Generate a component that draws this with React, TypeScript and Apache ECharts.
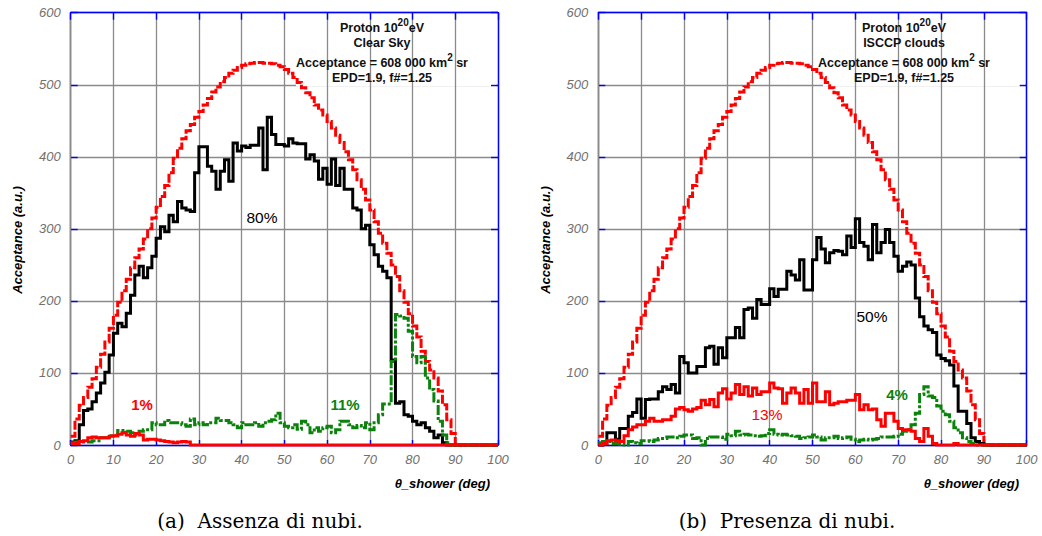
import { useEffect, useRef } from "react";
import * as echarts from "echarts";

// Acceptance histograms vs shower zenith angle, 1-degree bins starting at 0 deg.
const totalAcceptance = [
  12, 36, 55, 66, 80, 92, 108, 126, 143, 162,
  180, 198, 214, 230, 246, 260, 272, 286, 300, 315,
  330, 345, 360, 378, 398, 412, 425, 436, 445, 455,
  463, 472, 481, 490, 497, 504, 510, 516, 520, 524,
  527, 529, 530, 531, 531, 530, 530, 529, 527, 525,
  521, 516, 510, 503, 496, 489, 482, 472, 465, 458,
  449, 440, 430, 420, 407, 396, 382, 368, 355, 340,
  326, 310, 294, 280, 266, 250, 234, 214, 198, 182,
  165, 150, 130, 116, 104, 93, 75, 56, 35, 16,
  0, 0, 0, 0, 0, 0, 0, 0, 0, 0,
];

// Clear sky
const clearBlack = [
  4, 6, 28, 48, 50, 60, 72, 86, 101, 125,
  155, 169, 164, 183, 208, 236, 248, 232, 246, 262,
  287, 303, 296, 319, 310, 338, 329, 326, 324, 378,
  414, 414, 387, 380, 355, 380, 396, 366, 419, 408,
  415, 413, 416, 416, 440, 382, 455, 431, 417, 417,
  415, 425, 419, 418, 418, 397, 403, 394, 369, 384,
  362, 397, 360, 384, 355, 355, 329, 326, 300, 305,
  278, 264, 248, 241, 232, 118, 58, 60, 42, 40,
  33, 28, 31, 24, 19, 10, 14, 3, 0, 0,
  0, 0, 0, 0, 0, 0, 0, 0, 0, 0,
];
const clearGreen = [
  3, 4, 4, 4, 4, 6, 6, 10, 10, 13,
  13, 20, 20, 19, 17, 14, 19, 21, 21, 31,
  28, 28, 34, 31, 31, 31, 28, 26, 36, 28,
  31, 28, 31, 31, 37, 34, 34, 31, 28, 24,
  31, 28, 28, 31, 26, 31, 33, 35, 44, 31,
  26, 24, 28, 22, 33, 28, 17, 24, 19, 24,
  26, 17, 21, 33, 33, 28, 24, 27, 24, 31,
  21, 31, 42, 57, 57, 116, 181, 179, 176, 158,
  123, 114, 123, 93, 77, 61, 33, 14, 3, 0,
  0, 0, 0, 0, 0, 0, 0, 0, 0, 0,
];
const clearRed = [
  2, 2, 5, 6, 10, 11, 10, 10, 10, 12,
  13, 15, 17, 14, 12, 16, 14, 7, 8, 8,
  7, 6, 5, 4, 3, 4, 5, 4, 0, 0,
  0, 0, 0, 0, 0, 0, 0, 0, 0, 0,
  0, 0, 0, 0, 0, 0, 0, 0, 0, 0,
  0, 0, 0, 0, 0, 0, 0, 0, 0, 0,
  0, 0, 0, 0, 0, 0, 0, 0, 0, 0,
  0, 0, 0, 0, 0, 0, 0, 0, 0, 0,
  0, 0, 0, 0, 0, 0, 0, 0, 0, 0,
  0, 0, 0, 0, 0, 0, 0, 0, 0, 0,
];

// ISCCP clouds
const cloudBlack = [
  0, 2, 17, 17, 8, 23, 23, 40, 45, 64,
  37, 63, 64, 64, 74, 81, 77, 84, 72, 123,
  114, 100, 100, 109, 109, 135, 137, 112, 135, 121,
  149, 149, 163, 149, 188, 190, 176, 202, 195, 195,
  217, 206, 216, 216, 241, 236, 229, 257, 215, 215,
  257, 288, 272, 253, 267, 270, 269, 264, 290, 274,
  314, 281, 276, 257, 306, 267, 281, 299, 281, 262,
  241, 248, 254, 250, 204, 178, 165, 160, 156, 125,
  120, 117, 111, 82, 47, 47, 30, 10, 5, 2,
  0, 0, 0, 0, 0, 0, 0, 0, 0, 0,
];
const cloudRed = [
  0, 2, 6, 7, 6, 5, 13, 21, 25, 28,
  28, 33, 37, 33, 33, 35, 35, 40, 50, 52,
  49, 47, 50, 52, 62, 56, 63, 53, 72, 78,
  64, 72, 84, 70, 81, 68, 79, 70, 74, 74,
  86, 79, 78, 58, 72, 79, 72, 58, 77, 58,
  86, 60, 60, 74, 56, 58, 60, 60, 62, 62,
  70, 49, 56, 49, 50, 35, 26, 44, 44, 33,
  23, 21, 21, 19, 9, 5, 23, 12, 2, 0,
  0, 0, 0, 2, 0, 0, 0, 0, 0, 0,
  0, 0, 0, 0, 0, 0, 0, 0, 0, 0,
];
const cloudGreen = [
  3, 5, 5, 2, 2, 1, 0, 5, 3, 2,
  6, 6, 5, 7, 9, 9, 11, 11, 10, 12,
  14, 14, 9, 10, 0, 9, 11, 11, 11, 8,
  15, 13, 19, 14, 15, 14, 13, 12, 13, 16,
  21, 15, 14, 15, 14, 13, 12, 9, 10, 11,
  14, 11, 7, 10, 10, 12, 9, 10, 11, 8,
  5, 7, 8, 7, 8, 9, 11, 11, 11, 12,
  15, 19, 21, 28, 44, 70, 81, 68, 66, 54,
  47, 42, 33, 24, 17, 10, 5, 2, 0, 0,
  0, 0, 0, 0, 0, 0, 0, 0, 0, 0,
];

const FRAME = "#0000ff";
const GRID_COLOR = "#8a8a8a";
const RED = "#ff0000";
const GREEN = "#0b820b";
const BLACK = "#000000";

const tickFont = {
  color: "#707070",
  fontFamily: "Liberation Sans",
  fontStyle: "italic" as const,
  fontSize: 13,
};

// histogram bins -> step points, closing the last bin at its right edge
function steps(values: number[]) {
  const pts: number[][] = values.map((v, i) => [i, v]);
  pts.push([values.length, values[values.length - 1]]);
  return pts;
}

function hist(values: number[], axis: number, color: string, dash: any, z: number) {
  return {
    type: "line",
    xAxisIndex: axis,
    yAxisIndex: axis,
    data: steps(values),
    step: "end",
    symbol: "none",
    showSymbol: false,
    clip: false,
    silent: true,
    z,
    lineStyle: { color, width: 3, type: dash, cap: "butt", join: "miter" },
  };
}

function axesFor(gridIndex: number) {
  const xBottom = {
    type: "value", gridIndex, min: 0, max: 100, interval: 10, position: "bottom", z: 2,
    axisLine: { show: true, onZero: false, lineStyle: { color: FRAME, width: 1.4 } },
    axisTick: { show: true, inside: true, length: 5, lineStyle: { color: FRAME, width: 1.4 } },
    axisLabel: { ...tickFont, margin: 8, showMinLabel: true, showMaxLabel: true },
    splitLine: { show: true, lineStyle: { color: GRID_COLOR, width: 1.3 } },
  };
  const xTop = {
    type: "value", gridIndex, min: 0, max: 100, interval: 10, position: "top", z: 2,
    axisLine: { show: true, onZero: false, lineStyle: { color: FRAME, width: 1.4 } },
    axisTick: { show: true, inside: true, length: 7, lineStyle: { color: FRAME, width: 1.4 } },
    axisLabel: { show: false },
    splitLine: { show: false },
  };
  const yLeft = {
    type: "value", gridIndex, min: 0, max: 600, interval: 100, position: "left", z: 0,
    axisLine: { show: true, onZero: false, lineStyle: { color: FRAME, width: 1.4 } },
    axisTick: { show: true, inside: true, length: 7, lineStyle: { color: FRAME, width: 1.4 } },
    axisLabel: { ...tickFont, margin: 10 },
    splitLine: { show: true, lineStyle: { color: GRID_COLOR, width: 1.3 } },
  };
  const yRight = {
    type: "value", gridIndex, min: 0, max: 600, interval: 100, position: "right", z: 2,
    axisLine: { show: true, onZero: false, lineStyle: { color: FRAME, width: 1.4 } },
    axisTick: { show: true, inside: true, length: 7, lineStyle: { color: FRAME, width: 1.4 } },
    axisLabel: { show: false },
    splitLine: { show: false },
  };
  return { x: [xBottom, xTop], y: [yLeft, yRight] };
}

function txt(x: number, y: number, text: string, opts: any = {}) {
  const align = opts.align || "center";
  return {
    type: "text",
    x,
    y,
    rotation: opts.rotation || 0,
    z: 20,
    silent: true,
    style: {
      text,
      fill: opts.color || BLACK,
      fontFamily: opts.fontFamily || "Liberation Sans",
      fontSize: opts.fontSize || 12,
      fontWeight: opts.fontWeight || "normal",
      fontStyle: opts.fontStyle || "normal",
      textAlign: align,
      align,
      textVerticalAlign: "middle",
      verticalAlign: "middle",
      rich: opts.rich,
    },
  };
}

const supRich = {
  base: { fontFamily: "Liberation Sans", fontSize: 12.5, fontWeight: "bold", lineHeight: 17, verticalAlign: "bottom", fill: "#111" },
  sup: { fontFamily: "Liberation Sans", fontSize: 10, fontWeight: "bold", lineHeight: 17, verticalAlign: "top", fill: "#111" },
};

function infoBlock(cx: number, condition: string) {
  const o = { fontWeight: "bold", fontSize: 12.5, color: "#111" };
  return [
    txt(cx, 26, "{base|Proton 10}{sup|20}{base|eV}", { ...o, rich: supRich }),
    txt(cx, 43, condition, o),
    txt(cx, 61, "{base|Acceptance = 608 000 km}{sup|2}{base| sr}", { ...o, rich: supRich }),
    txt(cx, 78, "EPD=1.9, f#=1.25", o),
  ];
}

export default function App() {
  const ref = useRef<HTMLDivElement>(null);

  useEffect(() => {
    document.body.style.margin = "0";
    if (!ref.current) return;
    const chart = echarts.init(ref.current, undefined, { renderer: "svg" });

    const a = axesFor(0);
    const b = axesFor(1);

    const axisTitle = { fontWeight: "bold", fontStyle: "italic", fontSize: 13 };
    const pctBold = { fontWeight: "bold", fontSize: 15 };

    chart.setOption({
      animation: false,
      backgroundColor: "#ffffff",
      grid: [
        { left: 70.7, top: 12.7, width: 427.3, height: 432.3 },
        { left: 598.3, top: 12.7, width: 428.4, height: 432.3 },
      ],
      xAxis: [a.x[0], a.x[1], b.x[0], b.x[1]],
      yAxis: [a.y[0], a.y[1], b.y[0], b.y[1]],
      series: [
        hist(totalAcceptance, 0, RED, [9, 2], 3),
        hist(clearBlack, 0, BLACK, "solid", 4),
        hist(clearGreen, 0, GREEN, [10, 2, 3, 2], 5),
        hist(clearRed, 0, RED, "solid", 6),
        hist(totalAcceptance, 2, RED, [9, 2], 3),
        hist(cloudBlack, 2, BLACK, "solid", 4),
        hist(cloudGreen, 2, GREEN, [10, 2, 3, 2], 5),
        hist(cloudRed, 2, RED, "solid", 6),
      ],
      graphic: [
        // the info box hides the 500 grid line behind the text
        { type: "rect", z: 1, silent: true, shape: { x: 296, y: 83.5, width: 200, height: 3 }, style: { fill: "#ffffff" } },
        { type: "rect", z: 1, silent: true, shape: { x: 823, y: 83.5, width: 202, height: 3 }, style: { fill: "#ffffff" } },
        ...infoBlock(382, "Clear Sky"),
        ...infoBlock(904, "ISCCP clouds"),
        txt(17, 240, "Acceptance (a.u.)", { ...axisTitle, rotation: Math.PI / 2 }),
        txt(545, 240, "Acceptance (a.u.)", { ...axisTitle, rotation: Math.PI / 2 }),
        txt(490, 483, "θ_shower (deg)", { ...axisTitle, align: "right" }),
        txt(1019, 483, "θ_shower (deg)", { ...axisTitle, align: "right" }),
        txt(262, 217, "80%", { fontSize: 15.5 }),
        txt(142, 404, "1%", { ...pctBold, color: RED }),
        txt(345, 404, "11%", { ...pctBold, color: GREEN }),
        txt(872, 316, "50%", { fontSize: 15.5 }),
        txt(767, 414, "13%", { fontSize: 15.5, color: RED }),
        txt(897, 394, "4%", { ...pctBold, color: GREEN }),
        txt(260, 521, "(a)  Assenza di nubi.", { fontFamily: "DejaVu Serif", fontSize: 20 }),
        txt(787, 521, "(b)  Presenza di nubi.", { fontFamily: "DejaVu Serif", fontSize: 20 }),
      ],
    });

    return () => chart.dispose();
  }, []);

  return <div ref={ref} style={{ width: 1042, height: 536 }} />;
}
